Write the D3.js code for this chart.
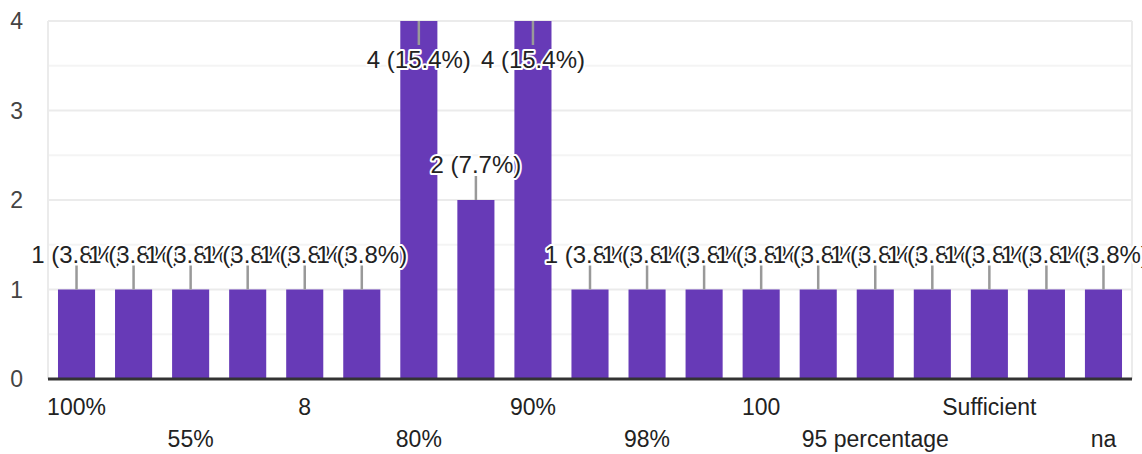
<!DOCTYPE html>
<html>
<head>
<meta charset="utf-8">
<script src="https://cdn.jsdelivr.net/npm/d3@7"></script>
<style>
  html, body { margin: 0; padding: 0; background: #fff; }
  svg { display: block; font-family: "Liberation Sans", Arial, sans-serif; }
</style>
</head>
<body>
<svg id="chart" width="1142" height="454"></svg>
<script>
// Data
const categories = ["100%", "50%", "55%", "60%", "8", "75%", "80%", "85%", "90%", "95%",
                    "98%", "99%", "100", "10", "95 percentage", "Good", "Sufficient", "Yes", "na"];
const counts = [1, 1, 1, 1, 1, 1, 4, 2, 4, 1, 1, 1, 1, 1, 1, 1, 1, 1, 1];
const yTicks = [0, 1, 2, 3, 4];
const yMinorTicks = [0.5, 1.5, 2.5, 3.5];

(function () {
const svg = d3.select("#chart");
const plotLeft = 48, plotRight = 1132, plotTop = 21, plotBottom = 379;
const total = d3.sum(counts);

const x = d3.scaleBand()
  .domain(d3.range(categories.length))
  .range([plotLeft, plotRight])
  .paddingInner(0.35)
  .paddingOuter(0.175);

const y = d3.scaleLinear().domain([0, 4]).range([plotBottom, plotTop]);

// minor gridlines
svg.append("g").selectAll("line").data(yMinorTicks).join("line")
  .attr("x1", plotLeft).attr("x2", plotRight)
  .attr("y1", d => y(d)).attr("y2", d => y(d))
  .attr("stroke", "#f4f4f4").attr("stroke-width", 2);

// major gridlines
svg.append("g").selectAll("line").data(yTicks.filter(d => d > 0)).join("line")
  .attr("x1", plotLeft).attr("x2", plotRight)
  .attr("y1", d => y(d)).attr("y2", d => y(d))
  .attr("stroke", "#ebebeb").attr("stroke-width", 2);

// vertical borders
svg.append("g").selectAll("line").data([plotLeft, plotRight]).join("line")
  .attr("x1", d => d).attr("x2", d => d)
  .attr("y1", plotTop).attr("y2", plotBottom)
  .attr("stroke", "#ebebeb").attr("stroke-width", 2);

// y tick labels
svg.append("g").selectAll("text").data(yTicks).join("text")
  .attr("x", 23).attr("y", d => y(d))
  .attr("dy", "0.35em")
  .attr("text-anchor", "end")
  .attr("font-size", 23)
  .attr("fill", "#444")
  .text(d => d);

// bars
svg.append("g").selectAll("rect").data(counts).join("rect")
  .attr("x", (d, i) => x(i))
  .attr("width", x.bandwidth())
  .attr("y", d => y(d))
  .attr("height", d => y(0) - y(d))
  .attr("fill", "#673ab7");

// baseline axis
svg.append("line")
  .attr("x1", plotLeft).attr("x2", plotRight)
  .attr("y1", plotBottom).attr("y2", plotBottom)
  .attr("stroke", "#333").attr("stroke-width", 3);

// x labels (every other category shown, staggered in two rows)
svg.append("g").selectAll("text")
  .data(categories.map((c, i) => ({ c, i })).filter(d => d.i % 2 === 0))
  .join("text")
  .attr("x", d => x(d.i) + x.bandwidth() / 2)
  .attr("y", d => (d.i % 4 === 0) ? 415 : 447)
  .attr("text-anchor", "middle")
  .attr("font-size", 23)
  .attr("fill", "#222")
  .text(d => d.c);

// annotations: stems
const stemLen = 24;
const fitsAbove = d => y(d) - stemLen - 30 > plotTop - 5;
svg.append("g").selectAll("line").data(counts).join("line")
  .attr("x1", (d, i) => x(i) + x.bandwidth() / 2)
  .attr("x2", (d, i) => x(i) + x.bandwidth() / 2)
  .attr("y1", d => y(d))
  .attr("y2", d => fitsAbove(d) ? y(d) - stemLen : y(d) + stemLen)
  .attr("stroke", "#999").attr("stroke-width", 2.5);

// annotation labels with white halo, drawn in order so later ones cover earlier
const ann = svg.append("g");
counts.forEach((d, i) => {
  const pct = (d / total * 100).toFixed(1);
  ann.append("text")
    .attr("x", x(i) + x.bandwidth() / 2)
    .attr("y", fitsAbove(d) ? y(d) - stemLen - 3 : y(d) + stemLen + 23)
    .attr("text-anchor", "middle")
    .attr("font-size", 24)
    .attr("fill", "#222")
    .attr("stroke", "#fff")
    .attr("stroke-width", 4)
    .attr("stroke-linejoin", "round")
    .attr("paint-order", "stroke")
    .text(`${d} (${pct}%)`);
});
})();
</script>
</body>
</html>
